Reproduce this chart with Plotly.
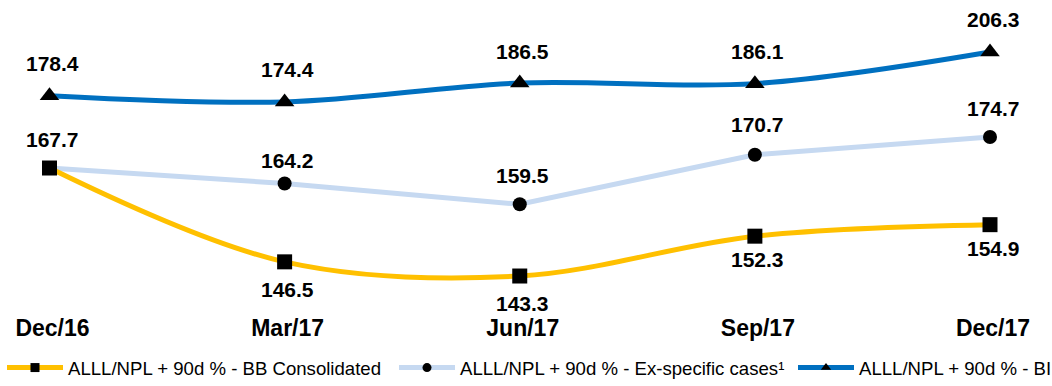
import plotly.graph_objects as go

categories = ["Dec/16", "Mar/17", "Jun/17", "Sep/17", "Dec/17"]
bb_consolidated = [167.7, 146.5, 143.3, 152.3, 154.9]
ex_specific = [167.7, 164.2, 159.5, 170.7, 174.7]
bi = [178.4, 174.4, 186.5, 186.1, 206.3]

names = [
    "ALLL/NPL + 90d % - BB Consolidated",
    "ALLL/NPL + 90d % - Ex-specific cases\u00b9",
    "ALLL/NPL + 90d % - BI",
]

YELLOW = "#FFC000"
LIGHTBLUE = "#C6D9F1"
BLUE = "#0070C0"
FONT = "Liberation Sans, Arial, sans-serif"

fig = go.Figure()

# main traces (no legend)
fig.add_trace(go.Scatter(x=categories, y=ex_specific, mode="lines+markers",
                         line=dict(color=LIGHTBLUE, width=5),
                         marker=dict(symbol="circle", size=14, color="black"),
                         showlegend=False, yaxis="y"))
fig.add_trace(go.Scatter(x=categories, y=bb_consolidated, mode="lines+markers",
                         line=dict(color=YELLOW, width=5, shape="spline", smoothing=1),
                         marker=dict(symbol="square", size=15, color="black"),
                         showlegend=False, yaxis="y"))
fig.add_trace(go.Scatter(x=categories, y=bi, mode="lines+markers",
                         line=dict(color=BLUE, width=5, shape="spline", smoothing=1),
                         marker=dict(symbol="triangle-up", size=17, color="black"),
                         showlegend=False, yaxis="y2"))

# legend entries, each in its own legend box
legend_ids = ["legend", "legend2", "legend3"]
for nm, col, sym, lg in [(names[0], YELLOW, "square", legend_ids[0]),
                         (names[1], LIGHTBLUE, "circle", legend_ids[1]),
                         (names[2], BLUE, "triangle-up", legend_ids[2])]:
    fig.add_trace(go.Scatter(x=[None], y=[None], mode="lines+markers", name=nm,
                             line=dict(color=col, width=5), legend=lg,
                             marker=dict(symbol=sym, size=9, color="black")))

label_font = dict(family=FONT, size=21, color="black", weight="bold")
ann = []
cons_shift = [29, -28, -27, -23, -24]
ex_shift = [None, 23, 29, 30, 29]
for i, c in enumerate(categories):
    ann.append(dict(x=c, y=bb_consolidated[i], yref="y", xref="x", text=f"{bb_consolidated[i]:.1f}",
                    showarrow=False, yshift=cons_shift[i], xshift=3, font=label_font))
    if ex_shift[i] is not None:
        ann.append(dict(x=c, y=ex_specific[i], yref="y", xref="x", text=f"{ex_specific[i]:.1f}",
                        showarrow=False, yshift=ex_shift[i], xshift=3, font=label_font))
    ann.append(dict(x=c, y=bi[i], yref="y2", xref="x", text=f"{bi[i]:.1f}",
                    showarrow=False, yshift=32, xshift=3, font=label_font))

legend_style = dict(orientation="h", xanchor="left", y=-0.187, yanchor="middle",
                    itemwidth=56, bgcolor="rgba(0,0,0,0)",
                    font=dict(family=FONT, size=18.6, color="black"))

fig.update_layout(
    width=1052, height=386,
    margin=dict(l=0, r=0, t=0, b=76, autoexpand=False),
    paper_bgcolor="white", plot_bgcolor="white",
    xaxis=dict(type="category", range=[-0.2105, 4.2637], showgrid=False, zeroline=False,
               showline=False, ticks="", ticklabelshift=3, ticklabelstandoff=2,
               tickfont=dict(family=FONT, size=23, color="black", weight="bold")),
    yaxis=dict(range=[135.62, 205.66], visible=False),
    yaxis2=dict(range=[41.55, 239.5], visible=False, overlaying="y", side="right"),
    legend=dict(x=2 / 1052, **legend_style),
    legend2=dict(x=394 / 1052, **legend_style),
    legend3=dict(x=793 / 1052, **legend_style),
    annotations=ann,
    showlegend=True,
)

fig.write_html("out.html")
